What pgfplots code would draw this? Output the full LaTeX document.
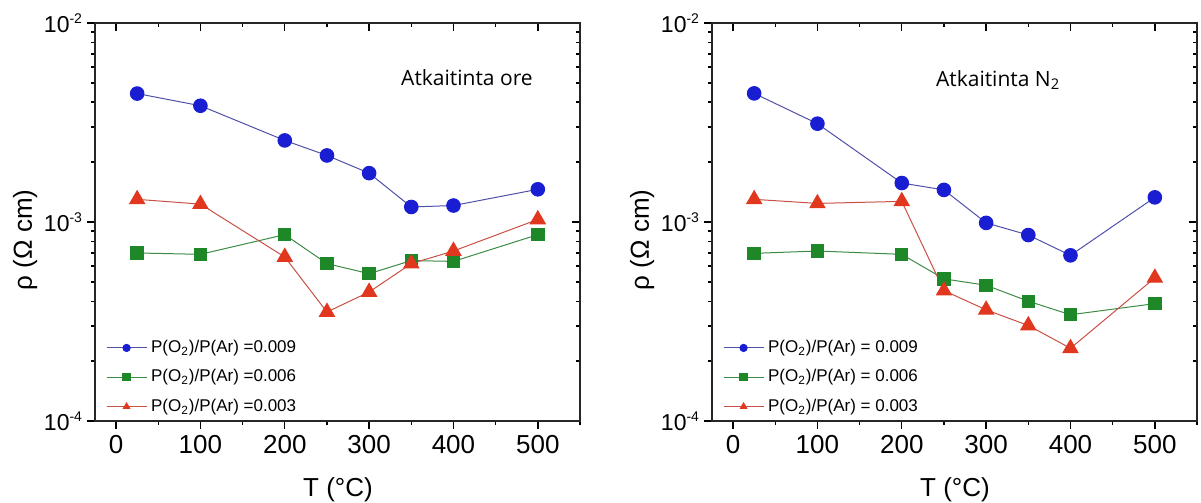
\documentclass[border=0pt]{standalone}
\usepackage{pgfplots}
\pgfplotsset{compat=1.18}
\usepackage{fontspec}
\setmainfont{Liberation Sans}
\newfontfamily\anno{Open Sans}
\definecolor{cblue}{RGB}{25,30,210}
\definecolor{lblue}{RGB}{80,80,170}
\definecolor{cgreen}{RGB}{30,135,40}
\definecolor{lgreen}{RGB}{60,140,70}
\definecolor{cred}{RGB}{225,55,30}
\definecolor{lred}{RGB}{200,80,70}
\tikzset{
  blueS/.style={color=lblue, line width=0.5pt, mark=*, mark size=3.4pt, mark options={fill=cblue, draw=cblue}},
  greenS/.style={color=lgreen, line width=0.5pt, mark=square*, mark size=3.1pt, mark options={fill=cgreen, draw=cgreen}},
  redS/.style={color=lred, line width=0.5pt, mark=triangle*, mark size=4.3pt, mark options={fill=cred, draw=cred}},
}
\pgfplotsset{
  legend image code/.code={
    \draw[#1] (0pt,0pt) -- (20pt,0pt);
    \draw[#1, mark size=1.8pt] plot coordinates {(10pt,0pt)};
  },
  every axis/.append style={
    scale only axis, width=242.5pt, height=199pt,
    xmin=-25, xmax=550, ymin=1e-4, ymax=1e-2,
    xtick={0,100,...,500}, minor xtick={50,150,...,450,550},
    ytick={1e-4,1e-3,1e-2},
    minor ytick={2e-4,3e-4,4e-4,5e-4,6e-4,7e-4,8e-4,9e-4,2e-3,3e-3,4e-3,5e-3,6e-3,7e-3,8e-3,9e-3},
    major tick length=3.8pt, minor tick length=2pt,
    every tick/.style={black, line width=0.7pt},
    axis line style={line width=0.9pt, black!85},
  }}
\newcommand{\ylab}{10\textsuperscript{\fontsize{7}{7}\selectfont -4},10\textsuperscript{\fontsize{7}{7}\selectfont -3},10\textsuperscript{\fontsize{7}{7}\selectfont -2}}
\pgfplotsset{
  mainax/.style={
    xtick pos=bottom, ytick pos=left, tick align=outside,
    /pgf/number format/assume math mode=true,
    xticklabel style={font=\fontsize{13}{13}\selectfont},
    yticklabel style={anchor=east, inner sep=2pt, font=\fontsize{11.5}{11.5}\selectfont},
    xlabel={T (°C)}, ylabel={ρ (Ω cm)},
    xlabel style={font=\fontsize{13}{13}\selectfont, at={(axis description cs:0.501,-0.173)}, anchor=center},
    ylabel style={font=\fontsize{13}{13}\selectfont, at={(axis description cs:-0.144,0.455)}, anchor=center},
    legend style={draw=none, fill=none, inner sep=0pt, font=\fontsize{8.5}{10}\selectfont, at={(0.022,0.006)}, anchor=south west, row sep=3pt},
    legend cell align=left,
  },
  mirax/.style={
    xtick pos=top, ytick pos=right, tick align=inside,
    xticklabels={}, yticklabels={},
  },
}
\begin{document}
\begin{tikzpicture}
\useasboundingbox (0,0) rectangle (600.5pt,-251.5pt);
\begin{semilogyaxis}[at={(47.5pt,-210.5pt)}, anchor=south west, mainax, yticklabels/.expand once=\ylab]
\addplot[blueS] coordinates {(25,4.42e-3) (100,3.84e-3) (200,2.57e-3) (250,2.16e-3) (300,1.76e-3) (350,1.19e-3) (400,1.21e-3) (500,1.46e-3)};
\addlegendentry{P(O\textsubscript{2})/P(Ar) =0.009}
\addplot[greenS] coordinates {(25,6.99e-4) (100,6.88e-4) (200,8.64e-4) (250,6.18e-4) (300,5.50e-4) (350,6.4e-4) (400,6.34e-4) (500,8.64e-4)};
\addlegendentry{P(O\textsubscript{2})/P(Ar) =0.006}
\addplot[redS] coordinates {(25,1.30e-3) (100,1.23e-3) (200,6.67e-4) (250,3.53e-4) (300,4.45e-4) (350,6.18e-4) (400,7.15e-4) (500,1.03e-3)};
\addlegendentry{P(O\textsubscript{2})/P(Ar) =0.003}
\node[font=\anno\fontsize{10.5}{12}\selectfont] at (rel axis cs:0.767,0.862) {Atkaitinta ore};
\end{semilogyaxis}
\begin{semilogyaxis}[at={(47.5pt,-210.5pt)}, anchor=south west, mirax]
\end{semilogyaxis}
\begin{semilogyaxis}[at={(356pt,-210.5pt)}, anchor=south west, mainax, yticklabels/.expand once=\ylab]
\addplot[blueS] coordinates {(25,4.43e-3) (100,3.12e-3) (200,1.57e-3) (250,1.45e-3) (300,9.9e-4) (350,8.6e-4) (400,6.8e-4) (500,1.33e-3)};
\addlegendentry{P(O\textsubscript{2})/P(Ar) = 0.009}
\addplot[greenS] coordinates {(25,6.96e-4) (100,7.15e-4) (200,6.88e-4) (250,5.18e-4) (300,4.81e-4) (350,4.0e-4) (400,3.42e-4) (500,3.89e-4)};
\addlegendentry{P(O\textsubscript{2})/P(Ar) = 0.006}
\addplot[redS] coordinates {(25,1.30e-3) (100,1.24e-3) (200,1.27e-3) (250,4.52e-4) (300,3.62e-4) (350,3.02e-4) (400,2.32e-4) (500,5.24e-4)};
\addlegendentry{P(O\textsubscript{2})/P(Ar) = 0.003}
\node[font=\anno\fontsize{10.5}{12}\selectfont] at (rel axis cs:0.59,0.857) {Atkaitinta N\textsubscript{2}};
\end{semilogyaxis}
\begin{semilogyaxis}[at={(356pt,-210.5pt)}, anchor=south west, mirax]
\end{semilogyaxis}
\end{tikzpicture}
\end{document}
